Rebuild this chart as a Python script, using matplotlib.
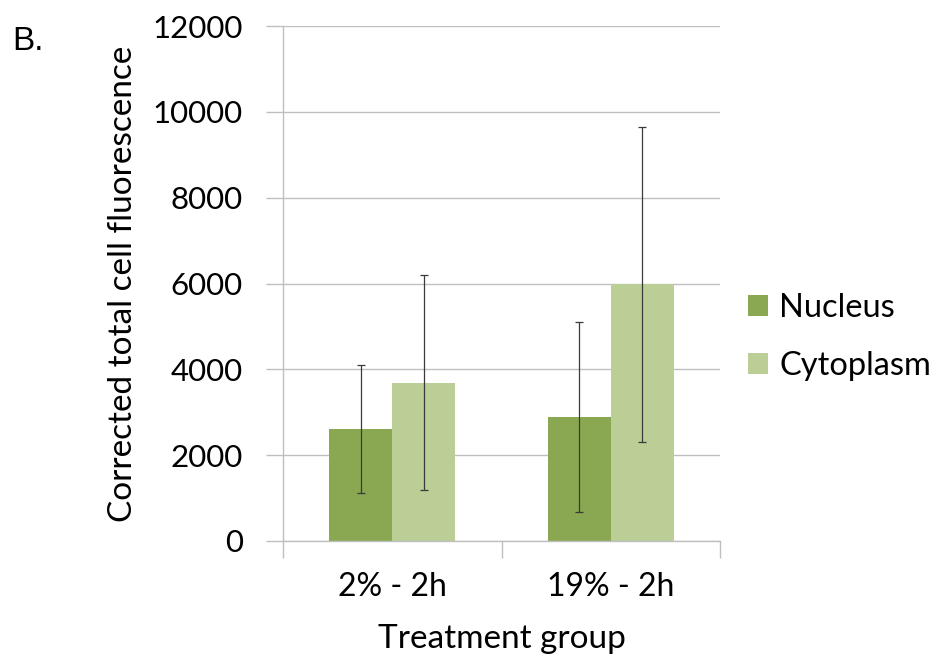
import matplotlib
matplotlib.use("Agg")
import matplotlib.pyplot as plt
import numpy as np

categories = ["2% - 2h", "19% - 2h"]
series_names = ["Nucleus", "Cytoplasm"]
nucleus = [2614, 2887]
nucleus_err = [1490, 2205]
cytoplasm = [3687, 5982]
cytoplasm_err = [2500, 3670]
y_ticks = [0, 2000, 4000, 6000, 8000, 10000, 12000]

colors = ["#8AA751", "#BACE95"]
font = "Lato"

fig = plt.figure(figsize=(9.41, 6.58), dpi=100)
ax = fig.add_axes([283/941, 1 - 541/658, (720-283)/941, (541-26)/658])

x = np.arange(len(categories))
w = 0.288
for i, (vals, errs, name, c) in enumerate([(nucleus, nucleus_err, series_names[0], colors[0]),
                                            (cytoplasm, cytoplasm_err, series_names[1], colors[1])]):
    pos = x + (i - 0.5) * w
    ax.bar(pos, vals, width=w, color=c, label=name, zorder=2)
    ax.errorbar(pos, vals, yerr=errs, fmt="none", ecolor="#3a3a3a", elinewidth=0.9,
                capsize=3, capthick=0.9, zorder=3)

ax.set_xlim(-0.5, 1.5)
ax.set_ylim(0, 12000)
ax.set_yticks(y_ticks)
ax.set_yticklabels([str(v) for v in y_ticks], fontsize=22.5, family=font)
ax.set_xticks(x)
ax.set_xticklabels(categories, fontsize=23, family=font)
ax.set_xticks([-0.5, 0.5, 1.5], minor=True)
ax.tick_params(axis="x", which="major", length=0, pad=22)
ax.tick_params(axis="x", which="minor", length=12, color="#BFBFBF", width=1)
ax.tick_params(axis="y", which="major", length=12, color="#BFBFBF", width=1, pad=17)
ax.grid(axis="y", color="#BFBFBF", linewidth=1, zorder=0)
ax.set_axisbelow(True)
for s in ["top", "right"]:
    ax.spines[s].set_visible(False)
for s in ["left", "bottom"]:
    ax.spines[s].set_color("#BFBFBF")
    ax.spines[s].set_linewidth(1)

ax.set_ylabel("Corrected total cell fluorescence", fontsize=24, family=font, labelpad=10)
ax.set_xlabel("Treatment group", fontsize=24, family=font, labelpad=16)

fig.legend(loc="center left", bbox_to_anchor=(748/941, 1 - 337/658), frameon=False,
           borderpad=0, borderaxespad=0,
           prop={"family": font, "size": 23.5}, handlelength=0.6, handleheight=0.6,
           handletextpad=0.35, labelspacing=0.85)

fig.text(12/941, 1 - 42/658, "B.", fontsize=24, family="Liberation Sans", va="center")

fig.savefig("out.png", dpi=100)
